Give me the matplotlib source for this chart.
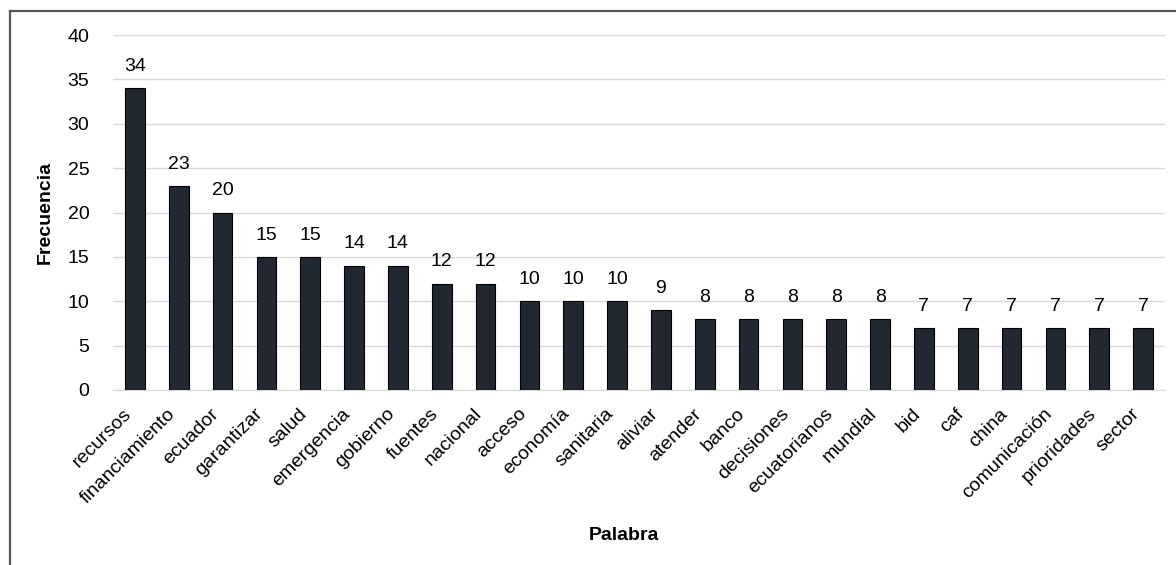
import matplotlib.pyplot as plt
from matplotlib.lines import Line2D

plt.rcParams['font.family'] = ['Liberation Sans', 'DejaVu Sans']

# Data
palabras = ['recursos', 'financiamiento', 'ecuador', 'garantizar', 'salud', 'emergencia',
            'gobierno', 'fuentes', 'nacional', 'acceso', 'economía', 'sanitaria',
            'aliviar', 'atender', 'banco', 'decisiones', 'ecuatorianos', 'mundial',
            'bid', 'caf', 'china', 'comunicación', 'prioridades', 'sector']
frecuencias = [34, 23, 20, 15, 15, 14, 14, 12, 12, 10, 10, 10,
               9, 8, 8, 8, 8, 8, 7, 7, 7, 7, 7, 7]

fig = plt.figure(figsize=(11.76, 5.65), dpi=100)
ax = fig.add_axes([113 / 1176, 1 - 390 / 565, 1052 / 1176, 355 / 565])

x = range(len(palabras))
ax.bar(x, frecuencias, width=0.45, color='#222831', edgecolor='black', linewidth=0.8, zorder=3)

for xi, v in zip(x, frecuencias):
    ax.text(xi, v + 1.5, str(v), ha='center', va='bottom', fontsize=14, color='black')

ax.set_xlim(-0.5, len(palabras) - 0.5)
ax.set_ylim(0, 40)
ax.set_yticks(range(0, 41, 5))
ax.yaxis.grid(True, color='#d9d9d9', linewidth=1, zorder=0)
ax.set_axisbelow(True)

ax.set_xticks(list(x))
ax.set_xticklabels(palabras, rotation=45, ha='right', rotation_mode='default', fontsize=14)
ax.tick_params(axis='both', length=0, labelsize=14)
ax.tick_params(axis='x', pad=11)
ax.tick_params(axis='y', pad=17)

for s in ['top', 'right', 'left']:
    ax.spines[s].set_visible(False)
ax.spines['bottom'].set_color('#d9d9d9')

ax.set_ylabel('Frecuencia', fontsize=14, fontweight='bold', labelpad=10)
fig.text(624 / 1176, 1 - 535 / 565, 'Palabra', ha='center', va='center', fontsize=14, fontweight='bold')

# Outer frame (top and left edges visible)
fig.add_artist(Line2D([10 / 1176, 1], [1 - 11 / 565, 1 - 11 / 565], color='#555555', linewidth=1.6))
fig.add_artist(Line2D([10 / 1176, 10 / 1176], [0, 1 - 11 / 565], color='#555555', linewidth=1.6))

fig.savefig('out.png', dpi=100)
